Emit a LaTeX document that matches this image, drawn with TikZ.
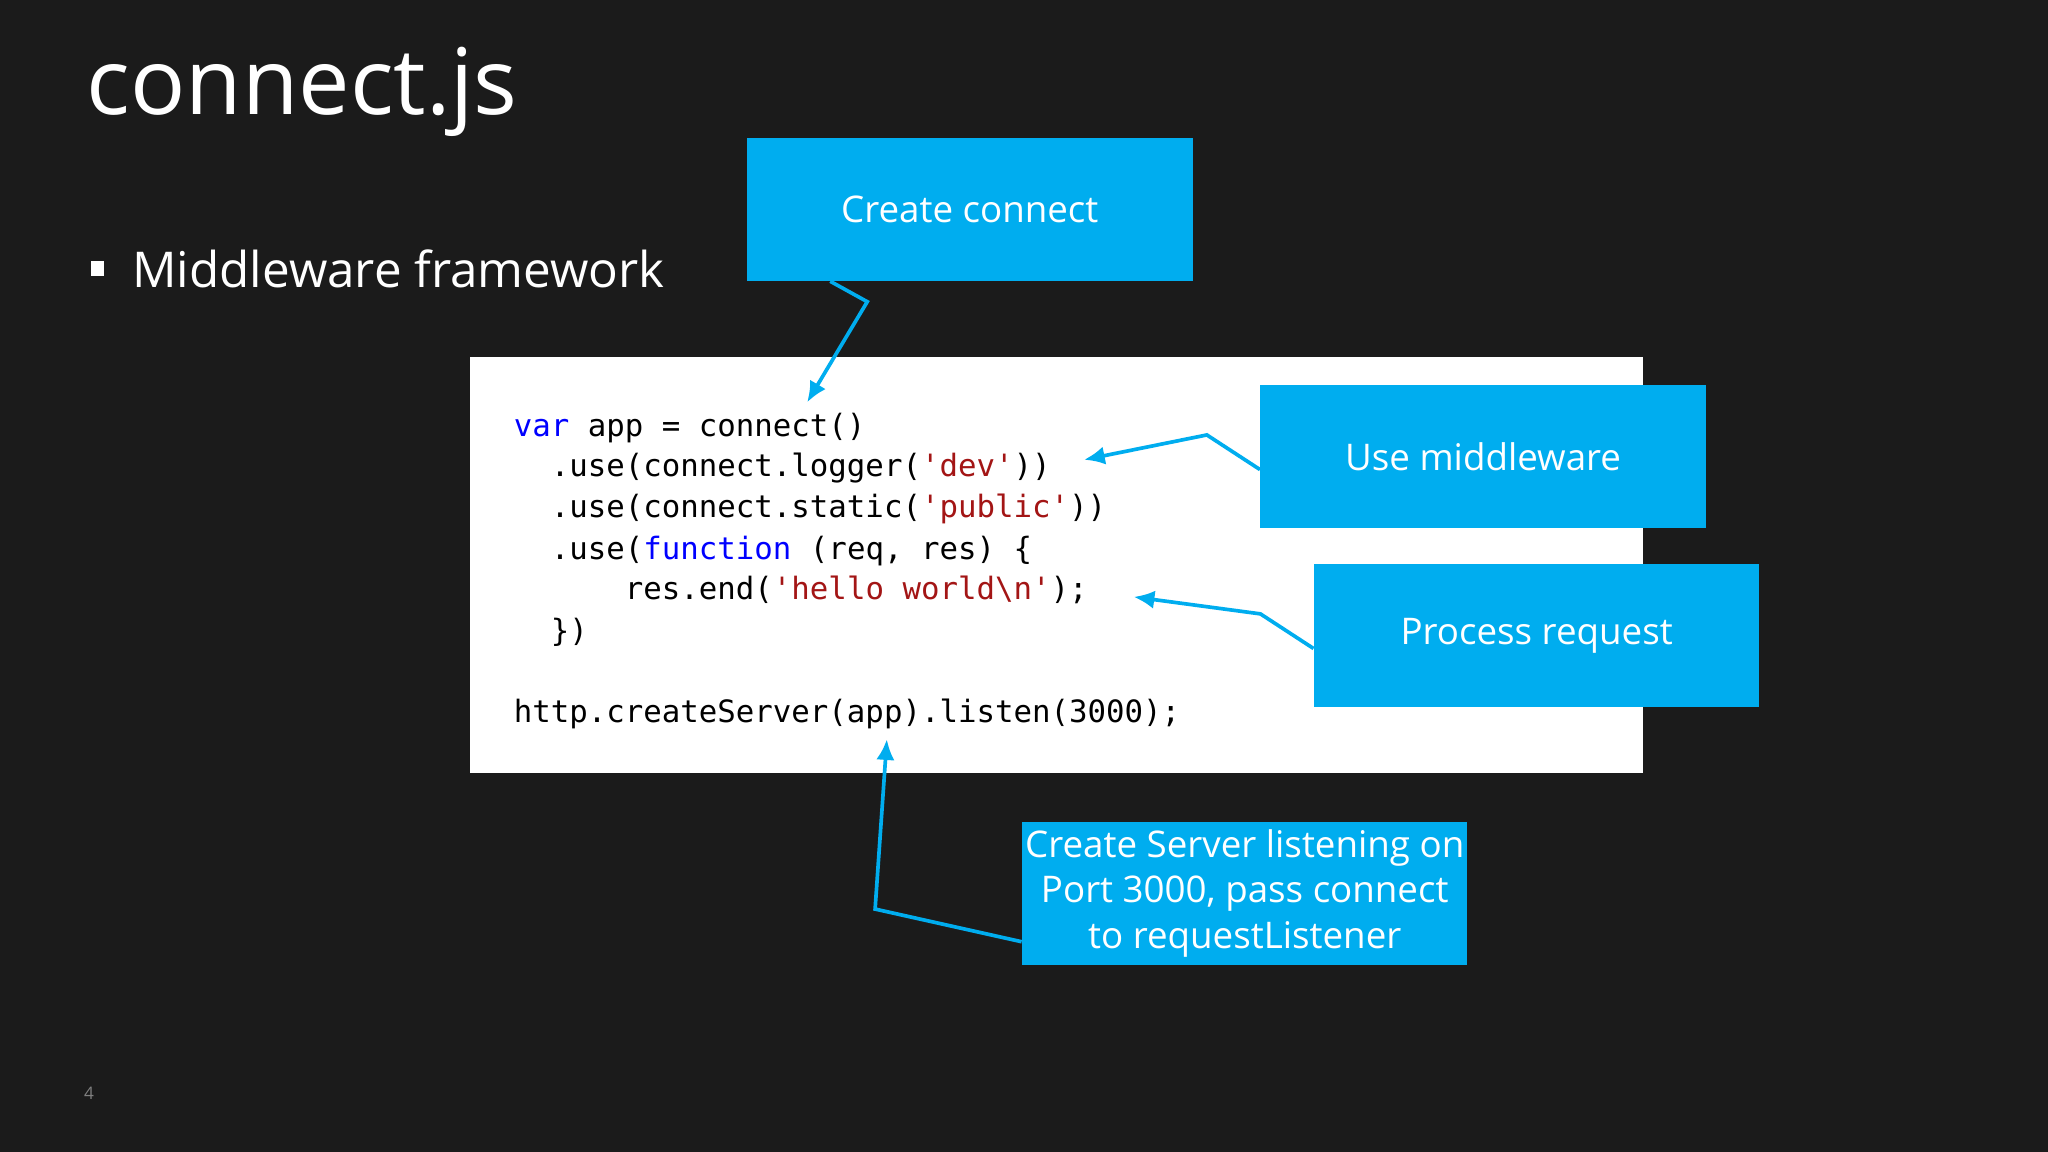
\documentclass[tikz,border=0pt]{standalone}
\usepackage{fontspec}
\setmainfont{Open Sans}
\newfontfamily\codefont{DejaVu Sans Mono}
\usepackage{xcolor}
\usetikzlibrary{arrows.meta,positioning}
\definecolor{slidebg}{HTML}{1B1B1B}
\definecolor{callout}{HTML}{00ADEF}
\definecolor{kw}{HTML}{0000FF}
\definecolor{str}{HTML}{A31515}
\tikzset{
  box/.style={fill=callout, minimum width=341\unitpx, minimum height=109\unitpx, text=white, font=\fontsize{16}{19}\selectfont, align=center, inner sep=0pt},
  code/.style={anchor=base west, inner sep=0pt, font=\codefont\fontsize{13.4}{16}\selectfont},
  pointer/.style={draw=callout, line width=1.6pt, -{Latex[length=9pt,width=8pt]}}
}
\newlength{\unitpx}\setlength{\unitpx}{0.02cm}
\begin{document}
\begin{tikzpicture}[x=0.02cm,y=-0.02cm]
  \fill[slidebg] (0,0) rectangle (1568,882);
  \useasboundingbox (0,0) rectangle (1568,882);

  % title and bullet
  \node[anchor=base west, inner sep=0pt, text=white, font=\fontsize{40}{46}\selectfont] (title) at (66,88) {connect.js};
  \fill[white] (70,200) rectangle (80,211);
  \node[anchor=west, inner sep=0pt, text=white, font=\fontsize{21.5}{26}\selectfont] (bullet) at (101,206) {Middleware framework};
  \node[anchor=base west, inner sep=0pt, text=gray, font=\fontsize{7.5}{9}\selectfont] (page) at (64,842) {4};

  % code panel
  \fill[white] (360,273) rectangle (1258,592);
  \node[code] (l1) at (393,334) {\textcolor{kw}{var} app = connect()};
  \node[code] (l2) at (393,365) {\ \ .use(connect.logger(\textcolor{str}{'dev'}))};
  \node[code] (l3) at (393,396) {\ \ .use(connect.static(\textcolor{str}{'public'}))};
  \node[code] (l4) at (393,428) {\ \ .use(\textcolor{kw}{function} (req, res) \{};
  \node[code] (l5) at (393,459) {\ \ \ \ \ \ res.end(\textcolor{str}{'hello world\textbackslash n'});};
  \node[code] (l6) at (393,491) {\ \ \})};
  \node[code] (l7) at (393,553) {http.createServer(app).listen(3000);};

  % callouts
  \node[box] (create) at (742.5,160.5) {Create connect};
  \node[box] (use) at (1135.5,349.5) {Use middleware};
  \node[box] (process) at (1176.5,486.5) {Process request};
  \node[box, font=\fontsize{16}{20}\selectfont] (server) at (953,684) {Create Server listening on\\Port 3000, pass connect\\to requestListener};

  % connectors
  \coordinate (c1) at (664,231);
  \coordinate (e1) at (618,308);
  \draw[pointer] (create.south west) ++(64,0) -- (c1) -- (e1);
  \coordinate (c2) at (924,333);
  \coordinate (e2) at (830,352);
  \draw[pointer] (use.west) ++(0,10) -- (c2) -- (e2);
  \coordinate (c3) at (965,470);
  \coordinate (e3) at (868,457);
  \draw[pointer] (process.west) ++(0,10) -- (c3) -- (e3);
  \coordinate (c4) at (670,696);
  \coordinate (e4) at (679,566);
  \draw[pointer] (server.west) ++(0,37) -- (c4) -- (e4);
\end{tikzpicture}
\end{document}
